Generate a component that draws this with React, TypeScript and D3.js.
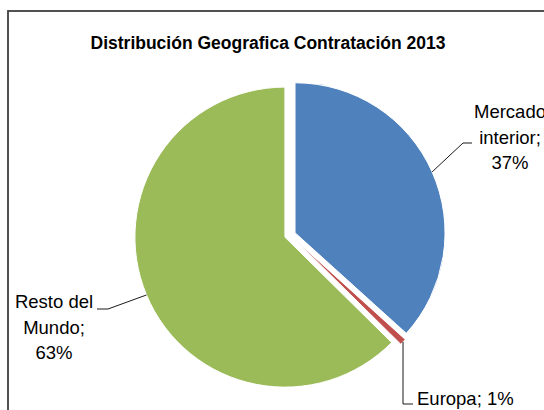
import React from "react";
import * as d3 from "d3";

const title = "Distribución Geografica Contratación 2013";
const categories = ["Mercado interior", "Europa", "Resto del Mundo"];
const values = [36.7, 0.7, 62.6];
const colors = ["#4F81BD", "#C0504D", "#9BBB59"];

const W = 544;
const H = 410;
const CX = 290;
const CY = 235;
const R = 150;
const EXPLODE = 5.5;
const FONT = "'Liberation Sans', Arial, sans-serif";
const FS = 18.5;

export default function App() {
  const pie = d3.pie<number>().sort(null).startAngle(0).endAngle(2 * Math.PI);
  const arcs = pie(values);
  const arc = d3.arc<d3.PieArcDatum<number>>().innerRadius(0).outerRadius(R);
  const total = d3.sum(values);
  const pct = (v: number) => `${Math.round((v / total) * 100)}%`;

  const geo = arcs.map((a) => {
    const mid = (a.startAngle + a.endAngle) / 2;
    const dx = Math.sin(mid);
    const dy = -Math.cos(mid);
    const cx = CX + dx * EXPLODE;
    const cy = CY + dy * EXPLODE;
    return { a, cx, cy, ox: cx + dx * R, oy: cy + dy * R };
  });

  // label layouts (text anchors / leader elbows)
  const labelLayout = [
    { x: 510, y: 118, anchor: "middle", lines: ["Mercado", "interior;", pct(values[0])], elbow: [[463, 143], [472, 143]] },
    { x: 417, y: 405, anchor: "start", lines: [`Europa; ${pct(values[1])}`], elbow: [[403, 404], [413, 404]] },
    { x: 54, y: 308, anchor: "middle", lines: ["Resto del", "Mundo;", pct(values[2])], elbow: [[108, 309], [97, 309]] },
  ];

  return (
    <svg width={W} height={H} style={{ position: "absolute", left: 0, top: 0, background: "#fff" }}>
      <rect x={0} y={0} width={W} height={H} fill="#fff" />
      <rect x={8} y={11} width={W + 40} height={H + 40} fill="#fff" stroke="#3f3f3f" strokeWidth={1.8} />
      <text x={268} y={49} textAnchor="middle" fontFamily={FONT} fontWeight="bold" fontSize={17.5}
        textLength={355} lengthAdjust="spacingAndGlyphs" fill="#000">
        {title}
      </text>
      {geo.map((g, i) => (
        <path key={categories[i]} d={arc(g.a) || ""} transform={`translate(${g.cx},${g.cy})`}
          fill={colors[i]} stroke="#fff" strokeWidth={1} />
      ))}
      {geo.map((g, i) => {
        const L = labelLayout[i];
        const pts = [[g.ox, g.oy], ...L.elbow];
        return (
          <g key={"lab" + i}>
            <path d={d3.line()(pts as [number, number][]) || ""} fill="none" stroke="#1a1a1a" strokeWidth={1} />
            <text fontFamily={FONT} fontSize={FS} fill="#000" textAnchor={L.anchor}>
              {L.lines.map((t, j) => (
                <tspan key={j} x={L.x} y={L.y + j * 25.5}>{t}</tspan>
              ))}
            </text>
          </g>
        );
      })}
    </svg>
  );
}
